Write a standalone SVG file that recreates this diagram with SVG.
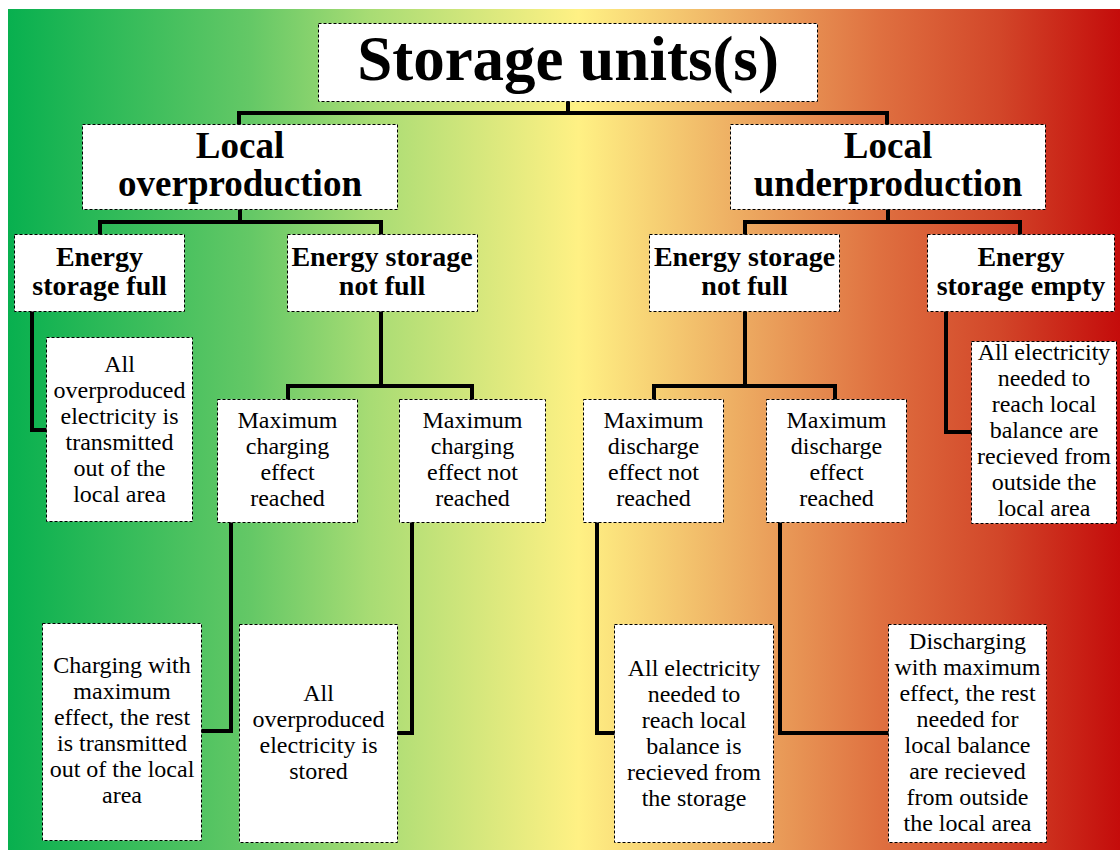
<svg xmlns="http://www.w3.org/2000/svg" width="1120" height="852" viewBox="0 0 1120 852">
<defs>
<linearGradient id="bg" gradientUnits="userSpaceOnUse" x1="8" y1="0" x2="1120" y2="0">
<stop offset="0" stop-color="#08b04f"/>
<stop offset="0.218" stop-color="#64c866"/>
<stop offset="0.326" stop-color="#a8dc74"/>
<stop offset="0.513" stop-color="#fff184"/>
<stop offset="0.658" stop-color="#edac62"/>
<stop offset="0.784" stop-color="#df7040"/>
<stop offset="0.892" stop-color="#d24629"/>
<stop offset="1" stop-color="#c40c0b"/>
</linearGradient>
<style>
.box{fill:#fff;stroke:#000;stroke-width:1;stroke-dasharray:3 2}
.c{fill:none;stroke:#000;stroke-width:4;stroke-linejoin:miter;stroke-linecap:square}
text{font-family:"Liberation Serif","Times New Roman",serif;fill:#000;text-anchor:middle}
.t{font-size:63px;font-weight:bold}
.l{font-size:37px;font-weight:bold}
.m{font-size:28px;font-weight:bold}
.s{font-size:24px}
</style>
</defs>
<rect x="0" y="0" width="1120" height="852" fill="#fff"/>
<rect x="8" y="9" width="1112" height="841" fill="url(#bg)"/>
<g id="connectors">
<path class="c" d="M568 102V113M239 124V113H887V124"/>
<path class="c" d="M240 210V222M100 234V222H381V234"/>
<path class="c" d="M888 210V222M745 234V222H1020V234"/>
<path class="c" d="M32 312V430H46"/>
<path class="c" d="M381 312V386M288 398V386H472V398"/>
<path class="c" d="M745 312V386M654 398V386H835V398"/>
<path class="c" d="M946 312V432H971"/>
<path class="c" d="M231 523V731H202"/>
<path class="c" d="M412 523V733H398"/>
<path class="c" d="M597 523V733H614"/>
<path class="c" d="M780 523V733H888"/>
</g>
<g id="title">
<rect class="box" x="318.5" y="23.5" width="499" height="78"/>
<text class="t" x="568" y="80">Storage units(s)</text>
</g>
<g id="local-over">
<rect class="box" x="82.5" y="124.5" width="315" height="85"/>
<text class="l" x="240" y="158">Local</text>
<text class="l" x="240" y="196">overproduction</text>
</g>
<g id="local-under">
<rect class="box" x="730.5" y="124.5" width="315" height="85"/>
<text class="l" x="888" y="158">Local</text>
<text class="l" x="888" y="196">underproduction</text>
</g>
<g id="esf">
<rect class="box" x="14.5" y="234.5" width="170" height="77"/>
<text class="m" x="99.5" y="266">Energy</text>
<text class="m" x="99.5" y="295">storage full</text>
</g>
<g id="esnf-left">
<rect class="box" x="287.5" y="234.5" width="190" height="77"/>
<text class="m" x="382" y="266">Energy storage</text>
<text class="m" x="382" y="295">not full</text>
</g>
<g id="esnf-right">
<rect class="box" x="649.5" y="234.5" width="190" height="77"/>
<text class="m" x="744.5" y="266">Energy storage</text>
<text class="m" x="744.5" y="295">not full</text>
</g>
<g id="ese">
<rect class="box" x="927.5" y="234.5" width="187" height="77"/>
<text class="m" x="1021" y="266">Energy</text>
<text class="m" x="1021" y="295">storage empty</text>
</g>
<g id="all-transmitted">
<rect class="box" x="46.5" y="337.5" width="146" height="184"/>
<text class="s" x="119.5" y="372">All</text>
<text class="s" x="119.5" y="398">overproduced</text>
<text class="s" x="119.5" y="424">electricity is</text>
<text class="s" x="119.5" y="450">transmitted</text>
<text class="s" x="119.5" y="476">out of  the</text>
<text class="s" x="119.5" y="502">local area</text>
</g>
<g id="mcer">
<rect class="box" x="217.5" y="399.5" width="140" height="123"/>
<text class="s" x="287.5" y="428">Maximum</text>
<text class="s" x="287.5" y="454">charging</text>
<text class="s" x="287.5" y="480">effect</text>
<text class="s" x="287.5" y="506">reached</text>
</g>
<g id="mcenr">
<rect class="box" x="399.5" y="399.5" width="146" height="123"/>
<text class="s" x="472.5" y="428">Maximum</text>
<text class="s" x="472.5" y="454">charging</text>
<text class="s" x="472.5" y="480">effect not</text>
<text class="s" x="472.5" y="506">reached</text>
</g>
<g id="mdenr">
<rect class="box" x="583.5" y="399.5" width="140" height="123"/>
<text class="s" x="653.5" y="428">Maximum</text>
<text class="s" x="653.5" y="454">discharge</text>
<text class="s" x="653.5" y="480">effect not</text>
<text class="s" x="653.5" y="506">reached</text>
</g>
<g id="mder">
<rect class="box" x="766.5" y="399.5" width="140" height="123"/>
<text class="s" x="836.5" y="428">Maximum</text>
<text class="s" x="836.5" y="454">discharge</text>
<text class="s" x="836.5" y="480">effect</text>
<text class="s" x="836.5" y="506">reached</text>
</g>
<g id="all-received-outside">
<rect class="box" x="971.5" y="341.5" width="145" height="182"/>
<text class="s" x="1044" y="360">All electricity</text>
<text class="s" x="1044" y="386">needed to</text>
<text class="s" x="1044" y="412">reach local</text>
<text class="s" x="1044" y="438">balance are</text>
<text class="s" x="1044" y="464">recieved from</text>
<text class="s" x="1044" y="490">outside the</text>
<text class="s" x="1044" y="516">local area</text>
</g>
<g id="charging-max">
<rect class="box" x="42.5" y="623.5" width="159" height="217"/>
<text class="s" x="122" y="673">Charging with</text>
<text class="s" x="122" y="699">maximum</text>
<text class="s" x="122" y="725">effect, the rest</text>
<text class="s" x="122" y="751">is transmitted</text>
<text class="s" x="122" y="777">out of  the local</text>
<text class="s" x="122" y="803">area</text>
</g>
<g id="all-stored">
<rect class="box" x="239.5" y="624.5" width="158" height="218"/>
<text class="s" x="318.5" y="701">All</text>
<text class="s" x="318.5" y="727">overproduced</text>
<text class="s" x="318.5" y="753">electricity is</text>
<text class="s" x="318.5" y="779">stored</text>
</g>
<g id="all-from-storage">
<rect class="box" x="614.5" y="624.5" width="159" height="218"/>
<text class="s" x="694" y="676">All electricity</text>
<text class="s" x="694" y="702">needed to</text>
<text class="s" x="694" y="728">reach local</text>
<text class="s" x="694" y="754">balance is</text>
<text class="s" x="694" y="780">recieved from</text>
<text class="s" x="694" y="806">the storage</text>
</g>
<g id="discharging-max">
<rect class="box" x="888.5" y="624.5" width="158" height="218"/>
<text class="s" x="967.5" y="649">Discharging</text>
<text class="s" x="967.5" y="675">with maximum</text>
<text class="s" x="967.5" y="701">effect, the rest</text>
<text class="s" x="967.5" y="727">needed for</text>
<text class="s" x="967.5" y="753">local balance</text>
<text class="s" x="967.5" y="779">are recieved</text>
<text class="s" x="967.5" y="805">from outside</text>
<text class="s" x="967.5" y="831">the local area</text>
</g>
</svg>
